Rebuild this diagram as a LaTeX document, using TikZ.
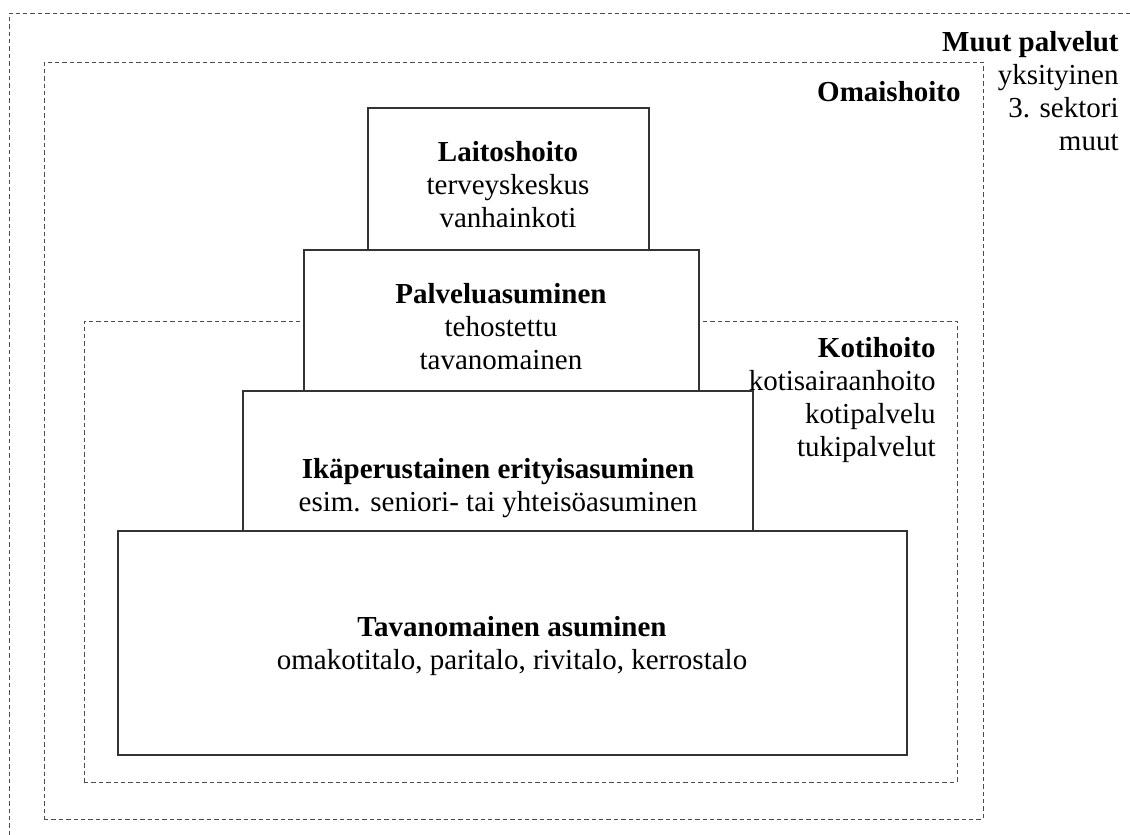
\documentclass[tikz,border=0pt]{standalone}
\usepackage{fontspec}
\setmainfont{Liberation Serif}
\begin{document}
\begin{tikzpicture}[x=0.5pt, y=-0.5pt,
  frame/.style={draw=black!70, line width=0.5pt, dash pattern=on 2.2pt off 1.5pt, inner sep=0pt},
  tier/.style={draw=black!80, fill=white, line width=0.65pt, inner sep=0pt},
  txt/.style={align=center, inner sep=0pt, font=\fontsize{14.5}{16.5}\selectfont},
  side/.style={align=right, inner sep=0pt, anchor=east, font=\fontsize{14.5}{16.5}\selectfont}]
\useasboundingbox (0,0) rectangle (1130,835);
\clip (0,0) rectangle (1130,835);
% dashed frames
\node[frame, minimum width=570.5pt, minimum height=418.5pt] (muut) at (579.5,431.5) {};
\node[frame, minimum width=469.5pt, minimum height=378.5pt] (omais) at (513.5,440.5) {};
\node[frame, minimum width=436.5pt, minimum height=230.5pt] (koti) at (520.5,551.5) {};
% pyramid
\node[tier, minimum width=140.5pt, minimum height=71pt] (laito) at (508.5,179) {};
\node[tier, minimum width=197.5pt, minimum height=71pt] (palvelu) at (501.5,321) {};
\node[tier, minimum width=255pt, minimum height=70pt] (ika) at (498,461) {};
\node[tier, minimum width=394.5pt, minimum height=112pt] (tavan) at (512.5,643) {};
\node[txt] (laitoT) at (508,185) {\textbf{Laitoshoito}\\terveyskeskus\\vanhainkoti};
\node[txt] (palveluT) at (501,327) {\textbf{Palveluasuminen}\\tehostettu\\tavanomainen};
\node[txt] (ikaT) at (498,488) {\textbf{Ikäperustainen erityisasuminen}\\esim. seniori- tai yhteisöasuminen};
\node[txt] (tavanT) at (512,646) {\textbf{Tavanomainen asuminen}\\omakotitalo, paritalo, rivitalo, kerrostalo};
% side labels
\node[side] (muutT) at (1119,91) {\textbf{Muut palvelut}\\yksityinen\\3. sektori\\muut};
\node[side] (omaisT) at (961,92) {\textbf{Omaishoito}};
\node[side] (kotiT) at (936,400) {\textbf{Kotihoito}\\kotisairaanhoito\\kotipalvelu\\tukipalvelut};
\end{tikzpicture}
\end{document}
